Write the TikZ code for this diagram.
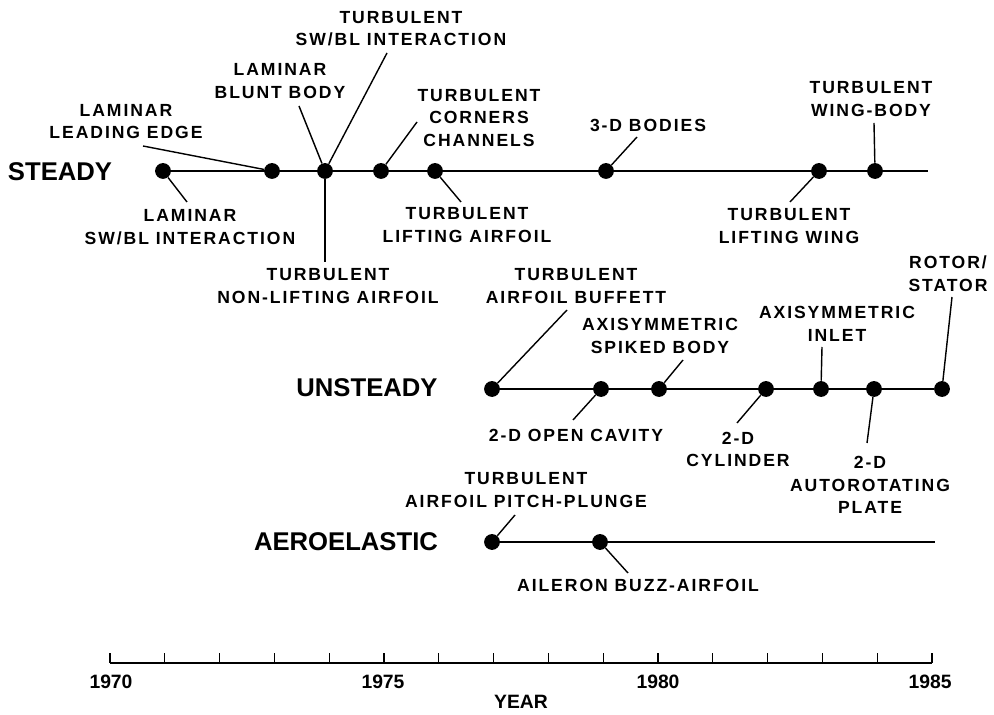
\documentclass[tikz,border=0pt]{standalone}
\usepackage{fontspec}
\setmainfont{Liberation Sans}
\newfontfamily\lblfont{Liberation Sans}[LetterSpace=11]
\usetikzlibrary{positioning}

\begin{document}
\begin{tikzpicture}[x=0.02cm,y=-0.02cm,
  dot/.style={circle,fill=black,inner sep=0pt,minimum size=9pt},
  tl/.style={line width=1.4pt},
  lead/.style={line width=0.8pt},
  ax/.style={line width=0.7pt},
  lbl/.style={font=\lblfont\bfseries\fontsize{10}{12.8}\selectfont,align=center,inner sep=0pt},
  cat/.style={font=\bfseries\fontsize{14.6}{16}\selectfont,inner sep=0pt},
  yr/.style={font=\bfseries\fontsize{11}{13}\selectfont,inner sep=0pt}
]
\useasboundingbox (0,0) rectangle (994,715);

% steady
\node[cat] (steady) at (60,172) {STEADY};
\node[dot] (s71) at (163,171) {}; \node[dot] (s73) at (272,171) {};
\node[dot] (s74) at (325,171) {}; \node[dot] (s75) at (381,171) {};
\node[dot] (s76) at (435,171) {}; \node[dot] (s79) at (606,171) {};
\node[dot] (s83) at (819,171) {}; \node[dot] (s84) at (875,171) {};
\coordinate (send) at (928,171);
\draw[tl] (s71) -- (send);
\node[lbl] (lsw)  at (190,227) {LAMINAR\\SW/BL INTERACTION};
\node[lbl] (lle)  at (126,121.5) {LAMINAR\\LEADING EDGE};
\node[lbl] (lbb)  at (280,81) {LAMINAR\\BLUNT BODY};
\node[lbl] (tsw)  at (401,28.5) {TURBULENT\\SW/BL INTERACTION};
\node[lbl] (tnl)  at (328,286) {TURBULENT\\NON-LIFTING AIRFOIL};
\node[lbl] (tcc)  at (479,118) {TURBULENT\\CORNERS\\CHANNELS};
\node[lbl] (tla)  at (467,225) {TURBULENT\\LIFTING AIRFOIL};
\node[lbl] (b3d)  at (648,125) {3-D BODIES};
\node[lbl] (tlw)  at (789,226) {TURBULENT\\LIFTING WING};
\node[lbl] (twb)  at (871,99) {TURBULENT\\WING-BODY};
\coordinate (elsw) at (187,202); \coordinate (elle) at (143,146);
\coordinate (elbb) at (299,106); \coordinate (etsw) at (387,53);
\coordinate (etnl) at (325,262); \coordinate (etcc) at (417,122);
\coordinate (etla) at (461,202); \coordinate (eb3d) at (637,137);
\coordinate (etlw) at (790,202); \coordinate (etwb) at (874,123);
\draw[lead] (s71) -- (elsw); \draw[lead] (s73) -- (elle);
\draw[lead] (s74) -- (elbb); \draw[lead] (s74) -- (etsw);
\draw[lead] (s74) -- (etnl); \draw[lead] (s75) -- (etcc);
\draw[lead] (s76) -- (etla); \draw[lead] (s79) -- (eb3d);
\draw[lead] (s83) -- (etlw); \draw[lead] (s84) -- (etwb);

% unsteady
\node[cat] (unsteady) at (367,388) {UNSTEADY};
\node[dot] (u77) at (492,389) {}; \node[dot] (u79) at (601,389) {};
\node[dot] (u80) at (659,389) {}; \node[dot] (u82) at (766,389) {};
\node[dot] (u83) at (821,389) {}; \node[dot] (u84) at (874,389) {};
\node[dot] (u85) at (942,389) {};
\draw[tl] (u77) -- (u85);
\node[lbl] (tab)  at (576,286) {TURBULENT\\AIRFOIL BUFFETT};
\node[lbl] (cav)  at (576,435) {2-D OPEN CAVITY};
\node[lbl] (asb)  at (660,336) {AXISYMMETRIC\\SPIKED BODY};
\node[lbl] (cyl)  at (738,449.5) {2-D\\CYLINDER};
\node[lbl] (ain)  at (837,324) {AXISYMMETRIC\\INLET};
\node[lbl] (arp)  at (870,485) {2-D\\AUTOROTATING\\PLATE};
\node[lbl] (rst)  at (948,273.5) {ROTOR/\\STATOR};
\coordinate (etab) at (567,310); \coordinate (ecav) at (573,420);
\coordinate (easb) at (683,360); \coordinate (ecyl) at (737,423);
\coordinate (eain) at (822,347); \coordinate (earp) at (867,443);
\coordinate (erst) at (952,297);
\draw[lead] (u77) -- (etab); \draw[lead] (u79) -- (ecav);
\draw[lead] (u80) -- (easb); \draw[lead] (u82) -- (ecyl);
\draw[lead] (u83) -- (eain); \draw[lead] (u84) -- (earp);
\draw[lead] (u85) -- (erst);

% aeroelastic
\node[cat] (aero) at (346,542) {AEROELASTIC};
\node[dot] (a77) at (492,542) {}; \node[dot] (a79) at (600,542) {};
\coordinate (aend) at (935,542);
\draw[tl] (a77) -- (aend);
\node[lbl] (tpp)  at (526,490) {TURBULENT\\AIRFOIL PITCH-PLUNGE};
\node[lbl] (abz)  at (638,585) {AILERON BUZZ-AIRFOIL};
\coordinate (etpp) at (515,515); \coordinate (eabz) at (628,573);
\draw[lead] (a77) -- (etpp); \draw[lead] (a79) -- (eabz);

% year axis
\coordinate (x70) at (110,663); \coordinate (x85) at (932,663);
\draw[ax] (x70) -- (x85);
\foreach \i in {0,...,15} \draw[ax] (110+54.8*\i,663) -- ++(0,-10);
\node[yr] (y70) at (111,682) {1970}; \node[yr] (y75) at (383,682) {1975};
\node[yr] (y80) at (658,682) {1980}; \node[yr] (y85) at (930,682) {1985};
\node[yr] (year) at (521,702) {YEAR};
\end{tikzpicture}
\end{document}
